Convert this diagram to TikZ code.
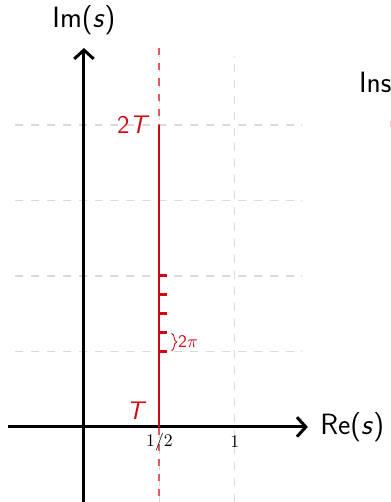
\documentclass[tikz,border=0pt]{standalone}
\usepackage{tikz}
\usetikzlibrary{arrows.meta}
\usetikzlibrary{decorations.pathreplacing}
\definecolor{zpred}{HTML}{CC0A14}
\definecolor{zpredlight}{HTML}{E05A66}
\definecolor{zpgrid}{HTML}{D9D9D9}
\definecolor{zpink}{HTML}{E8A0A8}
\tikzset{
  zpaxis/.style={-{Straight Barb[length=5pt, width=11pt, line width=1.7pt]},
    line width=1.7pt, black},
  zpgridline/.style={draw=zpgrid, line width=0.6pt,
    dash pattern=on 4.5pt off 4.5pt},
  zpcrit/.style={draw=zpredlight, line width=1.1pt,
    dash pattern=on 4pt off 4.6pt},
  zpsegment/.style={draw=zpred, line width=1.1pt},
  zptick/.style={draw=zpred, line width=1.7pt},
  zpaxislabel/.style={font=\sffamily\fontsize{16.6}{20}\selectfont, text=black},
  zpredlabel/.style={font=\sffamily\Large, text=zpred},
  zpticklabel/.style={font=\normalsize, text=black},
}

\begin{document}
\begin{tikzpicture}[x=3cm, y=3cm]
\useasboundingbox (-0.556, -0.497) rectangle (2.033, 2.828);
\clip (-0.556, -0.497) rectangle (2.033, 2.828);

% Background grid and the critical line.
\draw[zpgridline, step=0.5] (-0.457, -0.6) grid (1.444, 2.46);
\coordinate (cbot) at (0.5, -0.6);
\coordinate (ctop) at (0.5, 2.51);
\draw[zpcrit] (ctop) -- (cbot);

% Axes.
\coordinate (xlo) at (-0.503, 0);
\coordinate (xhi) at (1.483, 0);
\coordinate (ylo) at (0, -0.6);
\coordinate (yhi) at (0, 2.51);
\draw[zpaxis] (xlo) -- (xhi);
\draw[zpaxis] (ylo) -- (yhi);
\node[zpaxislabel, anchor=west] (relabel) at (1.525, 0) {Re(\textit{s})};
\node[zpaxislabel] (imlabel) at (0, 2.695) {Im(\textit{s})};

% Tick labels on the real axis.
\node[zpticklabel] (half) at (0.5, -0.1) {$1/2$};
\node[zpticklabel] (one) at (1.0, -0.095) {$1$};

% Segment of the critical line from T to 2T.
\coordinate (segT) at (0.5, 0);
\coordinate (seg2T) at (0.5, 2);
\draw[zpsegment] (segT) -- (seg2T);
\node[zpredlabel, anchor=east] (lT) at (0.455, 0.105) {\textit{T}};
\node[zpredlabel, anchor=east] (l2T) at (0.475, 2.0) {2\textit{T}};

% Marks spaced 2pi apart.
\foreach \k in {0,...,4} {
  \coordinate (m\k) at (0.5, 0.5 + 0.125*\k);
  \coordinate (e\k) at (0.547, 0.5 + 0.125*\k);
  \draw[zptick] (m\k) -- (e\k);
}
\coordinate (bt) at (0.58, 0.62);
\coordinate (bb) at (0.58, 0.505);
\draw[zpred, line width=0.5pt, decorate, decoration={brace, amplitude=3pt}]
  (bt) -- (bb);
\node[anchor=west, text=zpred, font=\sffamily\normalsize, inner sep=1pt]
  (twopi) at (0.61, 0.563) {2$\pi$};

% Text cut off at the right edge.
\node[zpaxislabel, anchor=west, inner sep=0pt] (ins) at (1.82, 2.285) {Ins};
\node[text=zpink, font=\small, anchor=west, inner sep=0pt] (paren)
  at (2.017, 2.0) {(};

\end{tikzpicture}
\end{document}
